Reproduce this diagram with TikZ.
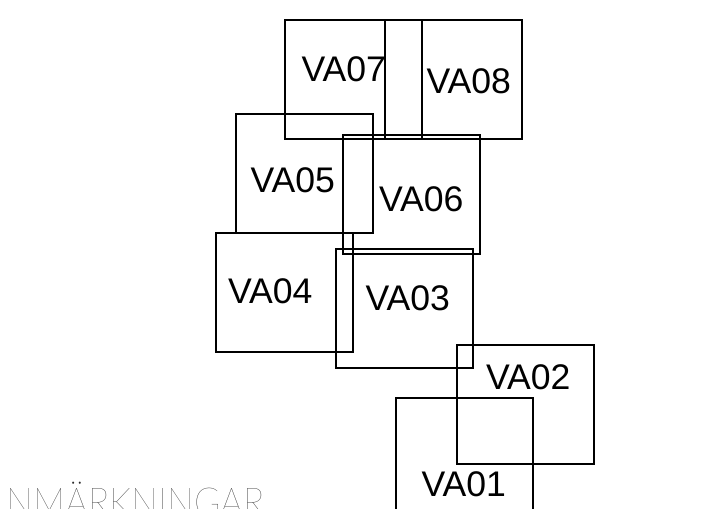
\documentclass[tikz,border=0pt]{standalone}
\usepackage{fontspec}
\setmainfont{Liberation Sans}
\IfFontExistsTF{Lato Thin}{\newfontfamily\thinfont{Lato Thin}}{%
  \IfFontExistsTF{Poppins Thin}{\newfontfamily\thinfont{Poppins Thin}}{%
    \IfFontExistsTF{Fira Sans Thin}{\newfontfamily\thinfont{Fira Sans Thin}}{%
      \IfFontExistsTF{Lato Light}{\newfontfamily\thinfont{Lato Light}}{%
        \newfontfamily\thinfont{Liberation Sans}}}}}
\begin{document}
\begin{tikzpicture}[x=1pt,y=-1pt,
  box/.style={draw=black, line width=1.6pt, rectangle, inner sep=0pt, outer sep=0pt,
    minimum width=137pt, minimum height=119pt, anchor=north west},
  lab/.style={anchor=base west, inner sep=0pt, outer sep=0pt, font=\fontsize{35.6}{40}\selectfont}]
\useasboundingbox (0,0) rectangle (721,509);
\node[box] (b7) at (285,20) {};
\node[box] (b8) at (385,20) {};
\node[box] (b5) at (236,114) {};
\node[box] (b6) at (343,135) {};
\node[box] (b4) at (216,233) {};
\node[box] (b3) at (336,249) {};
\node[box] (b2) at (457,345) {};
\node[box] (b1) at (396,398) {};
\node[lab] (t7) at (301.5,81) {VA07};
\node[lab] (t8) at (426.5,93.5) {VA08};
\node[lab] (t5) at (250.5,192.5) {VA05};
\node[lab] (t6) at (379,211.5) {VA06};
\node[lab] (t4) at (228,303.5) {VA04};
\node[lab] (t3) at (365.5,310) {VA03};
\node[lab] (t2) at (486,389.5) {VA02};
\node[lab] (t1) at (421.5,496.5) {VA01};
\node[anchor=base west, inner sep=0pt, text=black!85, font=\thinfont\fontsize{40}{44}\selectfont] (note) at (6,516) {\scalebox{0.9}[1]{NMÄRKNINGAR}};
\end{tikzpicture}
\end{document}
